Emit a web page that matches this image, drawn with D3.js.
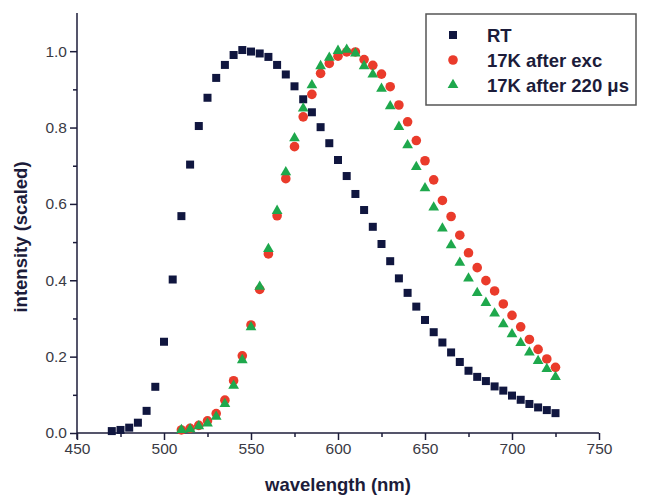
<!DOCTYPE html>
<html>
<head>
<meta charset="utf-8">
<script src="https://d3js.org/d3.v7.min.js"></script>
<style>
  body { margin: 0; background: #fff; }
  .tick text { font-family: "Liberation Sans", Arial, sans-serif; font-size: 15.5px; fill: #3a3a44; }
  .axis path, .axis line { stroke: #1c1c3a; stroke-width: 1.5px; }
  .label { font-family: "Liberation Sans", Arial, sans-serif; font-weight: bold; font-size: 18.5px; fill: #1c1c3a; }
  .legend text { font-family: "Liberation Sans", Arial, sans-serif; font-weight: bold; font-size: 18.5px; fill: #1c1c3a; }
</style>
</head>
<body>
<script>
// wavelengths (nm) and scaled intensities
var rtWave = [470,475,480,485,490,495,500,505,510,515,520,525,530,535,540,545,550,555,560,565,570,575,
              580,585,590,595,600,605,610,615,620,625,630,635,640,645,650,655,660,665,670,675,680,685,
              690,695,700,705,710,715,720,725];
var rtVal = [0.005,0.008,0.014,0.027,0.058,0.121,0.239,0.402,0.568,0.703,0.804,0.878,0.930,0.964,0.990,1.003,
             0.999,0.994,0.985,0.964,0.939,0.908,0.874,0.840,0.801,0.759,0.715,0.673,0.626,0.584,0.540,0.495,
             0.450,0.405,0.367,0.331,0.296,0.264,0.237,0.211,0.186,0.163,0.147,0.136,0.122,0.111,0.098,0.087,
             0.076,0.067,0.060,0.052];

var lowWave = [510,515,520,525,530,535,540,545,550,555,560,565,570,575,580,585,590,595,600,605,610,615,
               620,625,630,635,640,645,650,655,660,665,670,675,680,685,690,695,700,705,710,715,720,725];
var excVal = [0.008,0.012,0.020,0.032,0.051,0.086,0.137,0.202,0.283,0.376,0.469,0.569,0.666,0.750,0.828,0.887,
              0.942,0.968,0.987,0.998,0.998,0.978,0.963,0.940,0.907,0.859,0.815,0.766,0.713,0.663,0.609,0.567,
              0.518,0.472,0.433,0.399,0.372,0.338,0.308,0.278,0.245,0.219,0.194,0.172];
var delVal = [0.008,0.010,0.018,0.025,0.043,0.076,0.124,0.191,0.277,0.383,0.482,0.582,0.683,0.772,0.850,0.911,
              0.961,0.983,1.001,1.004,0.994,0.961,0.939,0.902,0.856,0.802,0.754,0.697,0.641,0.591,0.536,0.492,
              0.446,0.405,0.367,0.341,0.313,0.285,0.259,0.236,0.211,0.189,0.168,0.147];

var legendLabels = ["RT", "17K after exc", "17K after 220 \u03bcs"];
var colors = ["#10163f", "#ea3b2b", "#1ea84c"];

var W = 648, H = 497;
var margin = {left: 77, right: 49, top: 13, bottom: 64};

var svg = d3.select("body").append("svg").attr("width", W).attr("height", H);

var x = d3.scaleLinear().domain([450, 750]).range([margin.left, W - margin.right]);
var y = d3.scaleLinear().domain([0, 1.1]).range([H - margin.bottom, margin.top]);

// minor ticks
svg.append("g").attr("class", "axis")
  .attr("transform", "translate(0," + y(0) + ")")
  .call(d3.axisBottom(x).tickValues(d3.range(475, 750, 50)).tickSize(4).tickFormat(""))
  .select(".domain").remove();
svg.append("g").attr("class", "axis")
  .attr("transform", "translate(" + x(450) + ",0)")
  .call(d3.axisLeft(y).tickValues([0.1, 0.3, 0.5, 0.7, 0.9]).tickSize(4).tickFormat(""))
  .select(".domain").remove();

// major axes
var xAxis = svg.append("g").attr("class", "axis")
  .attr("transform", "translate(0," + y(0) + ")")
  .call(d3.axisBottom(x).tickValues(d3.range(450, 751, 50)).tickSize(7).tickSizeOuter(0).tickPadding(3));
var yAxis = svg.append("g").attr("class", "axis")
  .attr("transform", "translate(" + x(450) + ",0)")
  .call(d3.axisLeft(y).tickValues([0, 0.2, 0.4, 0.6, 0.8, 1.0]).tickSize(7).tickSizeOuter(0)
        .tickFormat(d3.format(".1f")).tickPadding(3));
yAxis.select(".domain").attr("d", "M0," + (y(0) + 6) + "V" + y(1.1));
xAxis.select(".domain").attr("d", "M" + x(450) + ",0H" + x(750));

// axis labels
svg.append("text").attr("class", "label")
  .attr("text-anchor", "middle")
  .attr("transform", "translate(27,237) rotate(-90)")
  .text("intensity (scaled)");
svg.append("text").attr("class", "label")
  .attr("text-anchor", "middle")
  .attr("x", x(600)).attr("y", 491)
  .text("wavelength (nm)");

// RT squares
svg.append("g").selectAll("rect")
  .data(rtWave.map(function(w, i) { return [w, rtVal[i]]; }))
  .enter().append("rect")
  .attr("x", function(d) { return x(d[0]) - 4; })
  .attr("y", function(d) { return y(d[1]) - 4; })
  .attr("width", 8).attr("height", 8)
  .attr("fill", colors[0]);

// 17K after exc circles
svg.append("g").selectAll("circle")
  .data(lowWave.map(function(w, i) { return [w, excVal[i]]; }))
  .enter().append("circle")
  .attr("cx", function(d) { return x(d[0]); })
  .attr("cy", function(d) { return y(d[1]); })
  .attr("r", 4.8)
  .attr("fill", colors[1]);

// 17K after 220 us triangles
var tri = d3.symbol().type(d3.symbolTriangle).size(50);
svg.append("g").selectAll("path")
  .data(lowWave.map(function(w, i) { return [w, delVal[i]]; }))
  .enter().append("path")
  .attr("d", tri)
  .attr("transform", function(d) { return "translate(" + x(d[0]) + "," + y(d[1]) + ")"; })
  .attr("fill", colors[2]);

// legend
var lg = svg.append("g").attr("class", "legend");
lg.append("rect").attr("x", 426).attr("y", 14).attr("width", 210).attr("height", 91)
  .attr("fill", "#fff").attr("stroke", "#555").attr("stroke-width", 1.5);
var ly = [35, 60, 85];
lg.append("rect").attr("x", 449).attr("y", ly[0] - 4).attr("width", 8).attr("height", 8).attr("fill", colors[0]);
lg.append("circle").attr("cx", 453).attr("cy", ly[1]).attr("r", 4.8).attr("fill", colors[1]);
lg.append("path").attr("d", tri).attr("transform", "translate(453," + ly[2] + ")").attr("fill", colors[2]);
lg.selectAll("text").data(legendLabels).enter().append("text")
  .attr("x", 487).attr("y", function(d, i) { return ly[i] + 7; })
  .text(function(d) { return d; });
</script>
</body>
</html>
